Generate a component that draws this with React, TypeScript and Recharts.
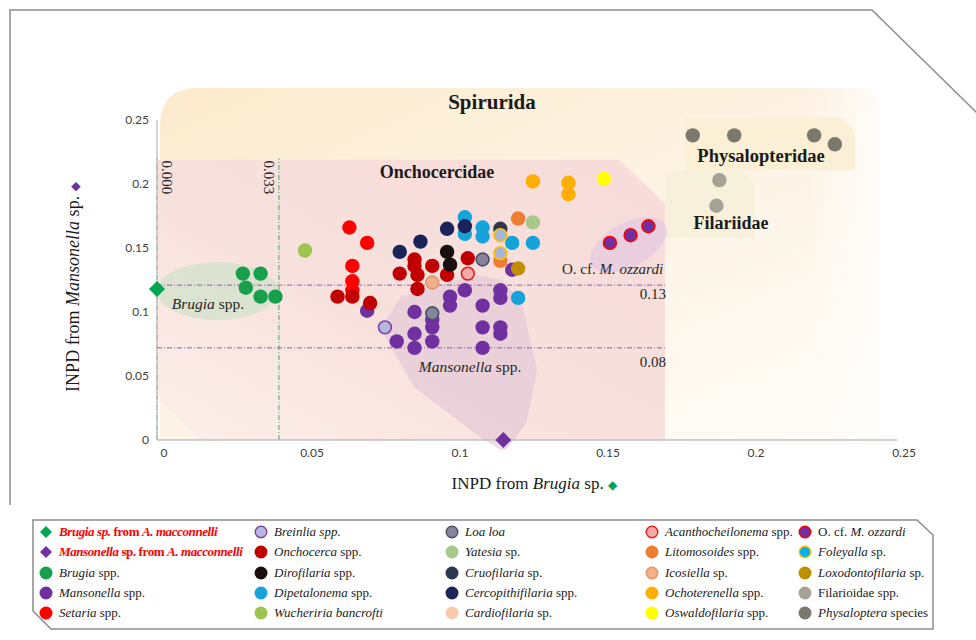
import React from "react";
import {
  ScatterChart,
  Scatter,
  XAxis,
  YAxis,
  ReferenceArea,
  ReferenceLine,
  Legend,
  Cell,
} from "recharts";

type Pt = { x: number; y: number };

// INPD values (x: from Brugia sp., y: from Mansonella sp.)
const brugiaMacconnelli: Pt[] = [{ x: 0, y: 0.118 }];
const mansonellaMacconnelli: Pt[] = [{ x: 0.117, y: 0 }];
const brugiaSpp: Pt[] = [
  { x: 0.029, y: 0.13 }, { x: 0.035, y: 0.13 }, { x: 0.03, y: 0.119 },
  { x: 0.035, y: 0.112 }, { x: 0.04, y: 0.112 },
];
const mansonellaSpp: Pt[] = [
  { x: 0.071, y: 0.101 }, { x: 0.081, y: 0.077 }, { x: 0.087, y: 0.1 }, { x: 0.087, y: 0.083 },
  { x: 0.087, y: 0.072 }, { x: 0.093, y: 0.094 }, { x: 0.093, y: 0.088 }, { x: 0.093, y: 0.077 },
  { x: 0.099, y: 0.112 }, { x: 0.099, y: 0.105 }, { x: 0.104, y: 0.117 }, { x: 0.11, y: 0.105 },
  { x: 0.11, y: 0.088 }, { x: 0.11, y: 0.072 }, { x: 0.116, y: 0.117 }, { x: 0.116, y: 0.111 },
  { x: 0.116, y: 0.088 }, { x: 0.116, y: 0.083 }, { x: 0.12, y: 0.133 },
];
const setariaSpp: Pt[] = [
  { x: 0.065, y: 0.166 }, { x: 0.071, y: 0.154 }, { x: 0.066, y: 0.136 },
  { x: 0.066, y: 0.124 }, { x: 0.066, y: 0.117 },
];
const breinliaSpp: Pt[] = [{ x: 0.077, y: 0.088 }];
const onchocercaSpp: Pt[] = [
  { x: 0.061, y: 0.112 }, { x: 0.066, y: 0.112 }, { x: 0.072, y: 0.107 }, { x: 0.082, y: 0.13 },
  { x: 0.087, y: 0.141 }, { x: 0.087, y: 0.136 }, { x: 0.088, y: 0.129 }, { x: 0.088, y: 0.118 },
  { x: 0.093, y: 0.136 }, { x: 0.098, y: 0.129 }, { x: 0.105, y: 0.142 },
];
const dirofilariaSpp: Pt[] = [{ x: 0.098, y: 0.147 }, { x: 0.099, y: 0.137 }];
const dipetalonemaSpp: Pt[] = [
  { x: 0.104, y: 0.174 }, { x: 0.104, y: 0.161 }, { x: 0.11, y: 0.166 }, { x: 0.11, y: 0.159 },
  { x: 0.12, y: 0.154 }, { x: 0.127, y: 0.154 }, { x: 0.122, y: 0.111 },
];
const wuchereria: Pt[] = [{ x: 0.05, y: 0.148 }];
const loaLoa: Pt[] = [{ x: 0.11, y: 0.141 }, { x: 0.093, y: 0.099 }];
const yatesiaSp: Pt[] = [{ x: 0.127, y: 0.17 }];
const cruofilariaSp: Pt[] = [{ x: 0.116, y: 0.165 }];
const cercopithifilariaSpp: Pt[] = [
  { x: 0.082, y: 0.147 }, { x: 0.089, y: 0.155 }, { x: 0.098, y: 0.165 }, { x: 0.104, y: 0.167 },
];
const cardiofilariaSp: Pt[] = [];
const acanthocheilonemaSpp: Pt[] = [{ x: 0.105, y: 0.13 }];
const litomosoidesSpp: Pt[] = [{ x: 0.122, y: 0.173 }, { x: 0.116, y: 0.14 }];
const icosiellaSp: Pt[] = [{ x: 0.093, y: 0.123 }];
const ochoterenellaSpp: Pt[] = [{ x: 0.127, y: 0.202 }, { x: 0.139, y: 0.201 }, { x: 0.139, y: 0.192 }];
const oswaldofilariaSpp: Pt[] = [{ x: 0.151, y: 0.204 }];
const ozzardi: Pt[] = [{ x: 0.153, y: 0.154 }, { x: 0.16, y: 0.16 }, { x: 0.166, y: 0.167 }];
const foleyallaSp: Pt[] = [{ x: 0.116, y: 0.16 }, { x: 0.116, y: 0.146 }];
const loxodontofilariaSp: Pt[] = [{ x: 0.122, y: 0.134 }];
const filarioidaeSpp: Pt[] = [{ x: 0.19, y: 0.203 }, { x: 0.189, y: 0.183 }];
const physalopteraSpecies: Pt[] = [
  { x: 0.181, y: 0.238 }, { x: 0.195, y: 0.238 }, { x: 0.222, y: 0.238 }, { x: 0.229, y: 0.231 },
];

const xTicks = [0, 0.05, 0.1, 0.15, 0.2, 0.25];
const yTicks = [0, 0.05, 0.1, 0.15, 0.2, 0.25];

const SERIF = '"Liberation Serif", "DejaVu Serif", serif';
const SANS = 'Lato, "Noto Sans", sans-serif';
const RED = "#ff0000";

type Series = {
  key: string;
  data: Pt[];
  fill: string;
  stroke?: string;
  diamond?: boolean;
  plotFill?: string;
  label: React.ReactNode;
};

const I = ({ children }: { children: React.ReactNode }) => <i>{children}</i>;
const redLabel = { color: RED, letterSpacing: -0.4 };

const series: Series[] = [
  { key: "bm", data: brugiaMacconnelli, fill: "#00a651", diamond: true,
    label: <b style={redLabel}><I>Brugia sp.</I> from <I>A. macconnelli</I></b> },
  { key: "mm", data: mansonellaMacconnelli, fill: "#7030a0", diamond: true,
    label: <b style={redLabel}><I>Mansonella</I> sp. from <I>A. macconnelli</I></b> },
  { key: "bs", data: brugiaSpp, fill: "#17a04b", label: <><I>Brugia</I> spp.</> },
  { key: "ms", data: mansonellaSpp, fill: "#7030a0", label: <><I>Mansonella</I> spp.</> },
  { key: "se", data: setariaSpp, fill: "#ff0000", label: <><I>Setaria</I> spp.</> },
  { key: "br", data: breinliaSpp, fill: "#b4b8dc", stroke: "#8040b0", label: <I>Breinlia spp.</I> },
  { key: "on", data: onchocercaSpp, fill: "#c00000", label: <><I>Onchocerca</I> spp.</> },
  { key: "di", data: dirofilariaSpp, fill: "#1a0f0f", label: <><I>Dirofilaria</I> spp.</> },
  { key: "dp", data: dipetalonemaSpp, fill: "#16a3da", label: <><I>Dipetalonema</I> spp.</> },
  { key: "wb", data: wuchereria, fill: "#9cc44e", label: <I>Wucheriria bancrofti</I> },
  { key: "ll", data: loaLoa, fill: "#86849a", stroke: "#4a5068", label: <I>Loa loa</I> },
  { key: "ya", data: yatesiaSp, fill: "#a8c98a", label: <><I>Yatesia</I> sp.</> },
  { key: "cr", data: cruofilariaSp, fill: "#2c3850", label: <><I>Cruofilaria</I> sp.</> },
  { key: "ce", data: cercopithifilariaSpp, fill: "#1b2459", label: <><I>Cercopithifilaria</I> spp.</> },
  { key: "ca", data: cardiofilariaSp, fill: "#f8cbad", label: <><I>Cardiofilaria</I> sp.</> },
  { key: "ac", data: acanthocheilonemaSpp, fill: "#f7aaa8", stroke: "#e02020", label: <><I>Acanthocheilonema</I> spp.</> },
  { key: "li", data: litomosoidesSpp, fill: "#ed7d31", label: <><I>Litomosoides</I> spp.</> },
  { key: "ic", data: icosiellaSp, fill: "#f2b08a", stroke: "#e2946a", label: <><I>Icosiella</I> sp.</> },
  { key: "oc", data: ochoterenellaSpp, fill: "#ffae00", label: <><I>Ochoterenella</I> spp.</> },
  { key: "os", data: oswaldofilariaSpp, fill: "#ffff00", label: <><I>Oswaldofilaria</I> spp.</> },
  { key: "oz", data: ozzardi, fill: "#7030a0", stroke: "#ff0000", label: <>O. cf. <I>M. ozzardi</I></> },
  { key: "fo", data: foleyallaSp, fill: "#00b0f0", stroke: "#ffc000", plotFill: "#a9b5d8", label: <><I>Foleyalla</I> sp.</> },
  { key: "lo", data: loxodontofilariaSp, fill: "#bf8f00", label: <><I>Loxodontofilaria</I> sp.</> },
  { key: "fi", data: filarioidaeSpp, fill: "#a5a396", label: <>Filarioidae spp.</> },
  { key: "ph", data: physalopteraSpecies, fill: "#7b796d", label: <><I>Physaloptera</I> species</> },
];

// Mansonella first so the other genera sit on top of it
const drawOrder = ["ms", ...series.map((s) => s.key).filter((k) => k !== "ms")];

const markShape = (props: any) => {
  const { cx, cy, fill, stroke, diamond } = props;
  if (cx == null || cy == null) return <g />;
  if (diamond) {
    const d = 8;
    return <path d={`M${cx},${cy - d}L${cx + d},${cy}L${cx},${cy + d}L${cx - d},${cy}Z`} fill={fill} />;
  }
  return (
    <circle cx={cx} cy={cy} r={stroke ? 6.4 : 7.2} fill={fill} stroke={stroke || "none"} strokeWidth={stroke ? 1.6 : 0} />
  );
};

// ---- background regions ----
const spiruridaShape = (p: any) => {
  const { x, y, width: w, height: h } = p;
  const r = 38;
  return (
    <g>
      <defs>
        <linearGradient id="spirG" x1="0" y1="0" x2="0.9" y2="1">
          <stop offset="0" stopColor="#fcebcc" />
          <stop offset="0.45" stopColor="#fdf2e2" />
          <stop offset="1" stopColor="#fffcf7" />
        </linearGradient>
        <linearGradient id="spirEdge" x1="0" y1="0" x2="1" y2="0">
          <stop offset="0.9" stopColor="#fff" stopOpacity={0} />
          <stop offset="1" stopColor="#fff" stopOpacity={0.7} />
        </linearGradient>
      </defs>
      <path
        d={`M${x},${y + r}Q${x},${y} ${x + r},${y}H${x + w - 20}Q${x + w},${y} ${x + w},${y + 20}V${y + h}H${x}Z`}
        fill="url(#spirG)"
      />
      <rect x={x} y={y} width={w} height={h} fill="url(#spirEdge)" />
      <text x={x + 332} y={y + 21} textAnchor="middle" fontFamily={SERIF} fontWeight="bold" fontSize={21} fill="#1a1a1a">
        Spirurida
      </text>
    </g>
  );
};

const onchoShape = (p: any) => {
  const { x, y, width: w, height: h } = p;
  return (
    <g>
      <defs>
        <linearGradient id="onchG" x1="1" y1="0" x2="0" y2="1">
          <stop offset="0" stopColor="#f7dcd9" />
          <stop offset="0.55" stopColor="#f8e1dd" />
          <stop offset="1" stopColor="#fcefe9" />
        </linearGradient>
      </defs>
      <path
        d={`M${x},${y}H${x + w - 46}L${x + w},${y + 44}V${y + h}H${x + 42}L${x},${y + h - 44}Z`}
        fill="url(#onchG)"
      />
      <text x={x + 280} y={y + 18} textAnchor="middle" fontFamily={SERIF} fontWeight="bold" fontSize={18} fill="#1a1a1a">
        Onchocercidae
      </text>
    </g>
  );
};

const boxShape = (title: string, tx: number, ty: number, fs: number, fill: string) => (p: any) => {
  const { x, y, width: w, height: h } = p;
  return (
    <g>
      <path d={`M${x},${y}H${x + w - 14}L${x + w},${y + 14}V${y + h}H${x}Z`} fill={fill} />
      <text x={x + tx} y={y + ty} textAnchor="middle" fontFamily={SERIF} fontWeight="bold" fontSize={fs} fill="#1a1a1a">
        {title}
      </text>
    </g>
  );
};

const brugiaEllipse = (p: any) => {
  const { x, y, width: w, height: h } = p;
  return (
    <g>
      <ellipse cx={x + w / 2} cy={y + h / 2} rx={w / 2} ry={h / 2} fill="#d6e2cc" opacity={0.85} />
      <text x={x + 51} y={y + 47} textAnchor="middle" fontFamily={SERIF} fontSize={15.5} fill="#262626">
        <tspan fontStyle="italic">Brugia</tspan> spp.
      </text>
    </g>
  );
};

const ozzardiEllipse = (p: any) => {
  const { x, y, width: w, height: h } = p;
  const cx = x + w / 2;
  const cy = y + h / 2;
  return (
    <g>
      <ellipse cx={cx} cy={cy} rx={42} ry={22} transform={`rotate(-28 ${cx} ${cy})`} fill="#e6cbe0" opacity={0.8} />
      <text x={cx - 16} y={cy + 29} textAnchor="middle" fontFamily={SERIF} fontSize={15} fill="#262626">
        O. cf. <tspan fontStyle="italic">M. ozzardi</tspan>
      </text>
    </g>
  );
};

// outline of the Mansonella cluster, as fractions of its bounding box
const mansonellaOutline = [
  [0.007, 0.248], [0.094, 0.13], [0.601, 0], [0.768, 0.025], [0.891, 0.143], [1, 0.547],
  [0.928, 0.857], [0.804, 1], [0.674, 0.932], [0.203, 0.627], [0, 0.329],
];
const mansonellaHull = (p: any) => {
  const { x, y, width: w, height: h } = p;
  const pts = mansonellaOutline.map(([fx, fy]) => `${x + fx * w},${y + fy * h}`).join(" ");
  return (
    <g>
      <polygon points={pts} fill="#e2c6d6" stroke="#e2c6d6" strokeWidth={14} strokeLinejoin="round" opacity={0.6} />
      <text x={x + 78} y={y + 90} textAnchor="middle" fontFamily={SERIF} fontSize={15.5} fill="#262626">
        <tspan fontStyle="italic">Mansonella</tspan> spp.
      </text>
    </g>
  );
};

// ---- labels ----
const VLabel = (props: any) => {
  const vb = props.viewBox || {};
  const lx = Math.min(vb.x, vb.x + (vb.width || 0));
  const top = Math.min(vb.y, vb.y + (vb.height || 0));
  const bx = lx + props.dx;
  const by = top + 2;
  return (
    <text x={bx} y={by} transform={`rotate(90 ${bx} ${by})`} fontFamily={SERIF} fontSize={15} fill="#262626">
      {props.text}
    </text>
  );
};

const HLabel = (props: any) => {
  const vb = props.viewBox || {};
  const right = Math.max(vb.x, vb.x + (vb.width || 0));
  const ly = Math.min(vb.y, vb.y + (vb.height || 0));
  return (
    <text x={right + 1} y={ly + props.dy} textAnchor="end" fontFamily={SERIF} fontSize={15} fill="#262626">
      {props.text}
    </text>
  );
};

const XTitle = (props: any) => {
  const vb = props.viewBox || {};
  return (
    <text x={vb.x + vb.width * 0.51} y={vb.y + 49} textAnchor="middle" fontFamily={SERIF} fontSize={17} fill="#1a1a1a">
      INPD from <tspan fontStyle="italic">Brugia</tspan> sp. <tspan fill="#00a651" fontSize={12}>◆</tspan>
    </text>
  );
};

const YTitle = () => (
  <text x={79} y={287} transform="rotate(-90 79 287)" textAnchor="middle" fontFamily={SERIF} fontSize={18} fill="#1a1a1a">
    INPD from <tspan fontStyle="italic">Mansonella</tspan> sp. <tspan fill="#7030a0" fontSize={12}>◆</tspan>
  </text>
);

// ---- legend ----
const legendCols = [0, 5, 10, 15, 20];
const colLeft = [14, 229, 420, 620, 773];

const LegendBox = () => (
  <div style={{ position: "relative", width: 902, height: 111, fontFamily: SERIF, fontSize: 13, color: "#1a1a1a" }}>
    <svg width={902} height={111} style={{ position: "absolute", left: 0, top: 0 }}>
      <path d="M1,1H885L901,16V110H19L1,92Z" fill="#fff" stroke="#8c8c8c" strokeWidth={1.5} />
    </svg>
    {legendCols.map((start, c) =>
      series.slice(start, start + 5).map((s, r) => (
        <div
          key={s.key}
          style={{
            position: "absolute",
            left: colLeft[c] - 7,
            top: 13 + r * 20.3 - 8,
            height: 16,
            display: "flex",
            alignItems: "center",
            whiteSpace: "nowrap",
          }}
        >
          <svg width={14} height={14} style={{ marginRight: 6, flex: "none" }}>
            {s.diamond ? (
              <path d="M7,1L13,7L7,13L1,7Z" fill={s.fill} />
            ) : (
              <circle cx={7} cy={7} r={s.stroke ? 5.8 : 6.5} fill={s.fill} stroke={s.stroke || "none"} strokeWidth={1.4} />
            )}
          </svg>
          <span>{s.label}</span>
        </div>
      ))
    )}
  </div>
);

export default function App() {
  const byKey = Object.fromEntries(series.map((s) => [s.key, s]));
  return (
    <div style={{ position: "absolute", left: 0, top: 0, width: 976, height: 640, background: "#fff", overflow: "hidden" }}>
      <svg width={976} height={640} style={{ position: "absolute", left: 0, top: 0 }}>
        <polyline points="10,505 10,10 872,10 978,114" fill="none" stroke="#8c8c8c" strokeWidth={1.5} />
      </svg>
      <div style={{ position: "absolute", left: 0, top: 0 }}>
        <ScatterChart width={976} height={640} margin={{ top: 120, right: 79, bottom: 170, left: 97 }}>
          <ReferenceArea x1={0.001} x2={0.244} y1={0} y2={0.275} ifOverflow="visible" shape={spiruridaShape} />
          <ReferenceArea x1={0} x2={0.1716} y1={0} y2={0.219} ifOverflow="visible" shape={onchoShape} />
          <ReferenceArea
            x1={0.1784} x2={0.2358} y1={0.211} y2={0.252} ifOverflow="visible"
            shape={boxShape("Physalopteridae", 76, 45, 18.5, "#fbefd6")}
          />
          <ReferenceArea
            x1={0.1716} x2={0.2020} y1={0.158} y2={0.211} ifOverflow="visible"
            shape={boxShape("Filariidae", 66, 59, 18, "#f7f1dc")}
          />
          <ReferenceArea x1={0} x2={0.0409} y1={0.0938} y2={0.1391} ifOverflow="visible" shape={brugiaEllipse} />
          <ReferenceArea x1={0.1466} x2={0.1720} y1={0.1367} y2={0.1680} ifOverflow="visible" shape={ozzardiEllipse} />
          <ReferenceArea x1={0.0794} x2={0.126} y1={-0.0023} y2={0.1234} ifOverflow="visible" shape={mansonellaHull} />

          <XAxis
            type="number"
            dataKey="x"
            domain={[0, 0.25]}
            ticks={xTicks}
            axisLine={{ stroke: "#bfbfbf", strokeWidth: 1.3 }}
            tickLine={false}
            tick={{ fill: "#404040", fontSize: 12, fontFamily: SANS, dx: 7 }}
            label={<XTitle />}
          />
          <YAxis
            type="number"
            dataKey="y"
            domain={[0, 0.25]}
            ticks={yTicks}
            axisLine={{ stroke: "#bfbfbf", strokeWidth: 1.3 }}
            tickLine={false}
            tick={{ fill: "#404040", fontSize: 12, fontFamily: SANS }}
            label={<YTitle />}
          />

          <ReferenceLine
            segment={[{ x: 0, y: 0 }, { x: 0, y: 0.22 }]}
            stroke="#4aa56a" strokeDasharray="5 2 1 2" ifOverflow="visible"
            label={<VLabel text="0.000" dx={5} />}
          />
          <ReferenceLine
            segment={[{ x: 0.0412, y: 0 }, { x: 0.0412, y: 0.22 }]}
            stroke="#4aa56a" strokeDasharray="5 2 1 2" ifOverflow="visible"
            label={<VLabel text="0.033" dx={-15} />}
          />
          <ReferenceLine
            segment={[{ x: 0, y: 0.121 }, { x: 0.1716, y: 0.121 }]}
            stroke="#8e5bb5" strokeDasharray="5 2 1 2" ifOverflow="visible"
            label={<HLabel text="0.13" dy={14} />}
          />
          <ReferenceLine
            segment={[{ x: 0, y: 0.072 }, { x: 0.1716, y: 0.072 }]}
            stroke="#8e5bb5" strokeDasharray="5 2 1 2" ifOverflow="visible"
            label={<HLabel text="0.08" dy={19} />}
          />

          {drawOrder.map((k) => {
            const s = byKey[k];
            return (
              <Scatter
                key={k}
                name={k}
                data={s.data}
                fill={s.plotFill || s.fill}
                stroke={s.stroke}
                shape={(p: any) => markShape({ ...p, diamond: s.diamond, fill: s.plotFill || s.fill, stroke: s.stroke })}
                isAnimationActive={false}
              >
                {s.data.map((_, i) => (
                  <Cell key={i} />
                ))}
              </Scatter>
            );
          })}

          <Legend
            layout="horizontal"
            verticalAlign="middle"
            align="center"
            wrapperStyle={{ left: 32, top: 519, width: 902, height: 111 }}
            content={() => <LegendBox />}
          />
        </ScatterChart>
      </div>
    </div>
  );
}
